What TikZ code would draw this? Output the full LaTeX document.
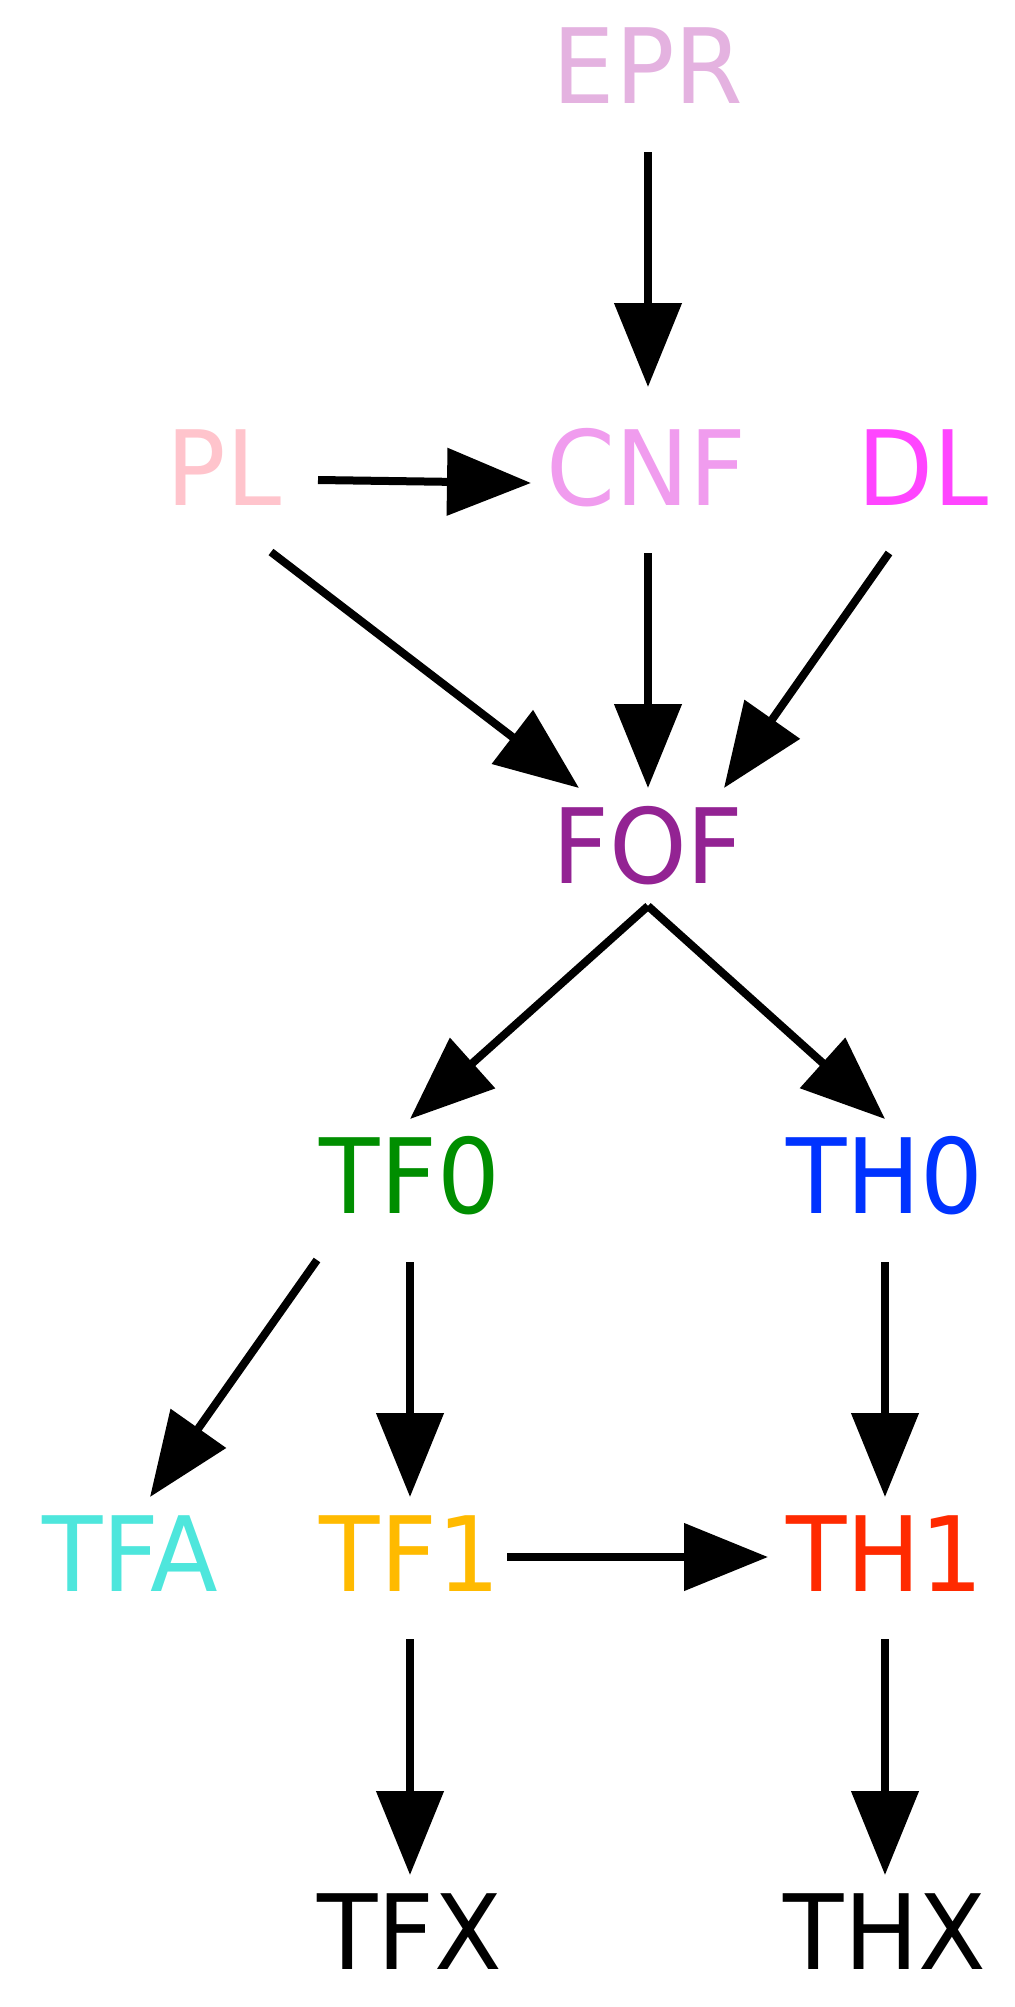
\documentclass[tikz,border=0pt]{standalone}
\usepackage{fontspec}
\setmainfont{DejaVu Sans}[FakeStretch=0.95]
\usetikzlibrary{calc,arrows.meta}
\definecolor{cEPR}{HTML}{E4B2E0}
\definecolor{cPL}{HTML}{FFC4CC}
\definecolor{cCNF}{HTML}{F09CEE}
\definecolor{cDL}{HTML}{FF45FF}
\definecolor{cFOF}{HTML}{932393}
\definecolor{cTFO}{HTML}{008E00}
\definecolor{cTHO}{HTML}{0033FF}
\definecolor{cTFA}{HTML}{4EE6DC}
\definecolor{cTFI}{HTML}{FFBA00}
\definecolor{cTHI}{HTML}{FF2A00}
\tikzset{
  lbl/.style={inner sep=0pt, outer sep=0pt, font=\fontsize{52}{60}\selectfont},
  edge/.style={line width=4pt, draw=black, -{Triangle[length=42pt,width=33pt]}}
}
\begin{document}
\begin{tikzpicture}[x=0.5pt,y=-0.5pt]
\useasboundingbox (0,0) rectangle (1015,2007);
\node[lbl, text=cEPR] (EPR) at (648,66) {EPR};
\node[lbl, text=cPL] (PL) at (224,468) {PL};
\node[lbl, text=cCNF] (CNF) at (646,468) {CNF};
\node[lbl, text=cDL] (DL) at (923,468) {DL};
\node[lbl, text=cFOF] (FOF) at (648,846) {FOF};
\node[lbl, text=cTFO] (TF0) at (410,1176) {TF0};
\node[lbl, text=cTHO] (TH0) at (885,1176) {TH0};
\node[lbl, text=cTFA] (TFA) at (130,1554) {TFA};
\node[lbl, text=cTFI] (TF1) at (410,1554) {TF1};
\node[lbl, text=cTHI] (TH1) at (885,1554) {TH1};
\node[lbl] (TFX) at (410,1932) {TFX};
\node[lbl] (THX) at (885,1932) {THX};

\draw[edge] ($(EPR)+(0,86)$) -- ($(CNF)+(2,-81)$);
\draw[edge] ($(PL)+(94,12)$) -- ($(CNF)+(-115,15)$);
\draw[edge] ($(PL)+(47,84)$) -- ($(FOF)+(-69,-58)$);
\draw[edge] ($(CNF)+(2,85)$) -- ($(FOF)+(0,-58)$);
\draw[edge] ($(DL)+(-34,85)$) -- ($(FOF)+(76,-58)$);
\draw[edge] ($(FOF)+(0,60)$) -- ($(TF0)+(0,-57)$);
\draw[edge] ($(FOF)+(0,60)$) -- ($(TH0)+(0,-57)$);
\draw[edge] ($(TF0)+(-93,84)$) -- ($(TFA)+(20,-57)$);
\draw[edge] ($(TF0)+(0,86)$) -- ($(TF1)+(0,-57)$);
\draw[edge] ($(TH0)+(0,86)$) -- ($(TH1)+(0,-57)$);
\draw[edge] ($(TF1)+(97,3)$) -- ($(TH1)+(-117,3)$);
\draw[edge] ($(TF1)+(0,85)$) -- ($(TFX)+(0,-57)$);
\draw[edge] ($(TH1)+(0,85)$) -- ($(THX)+(0,-57)$);
\end{tikzpicture}
\end{document}
